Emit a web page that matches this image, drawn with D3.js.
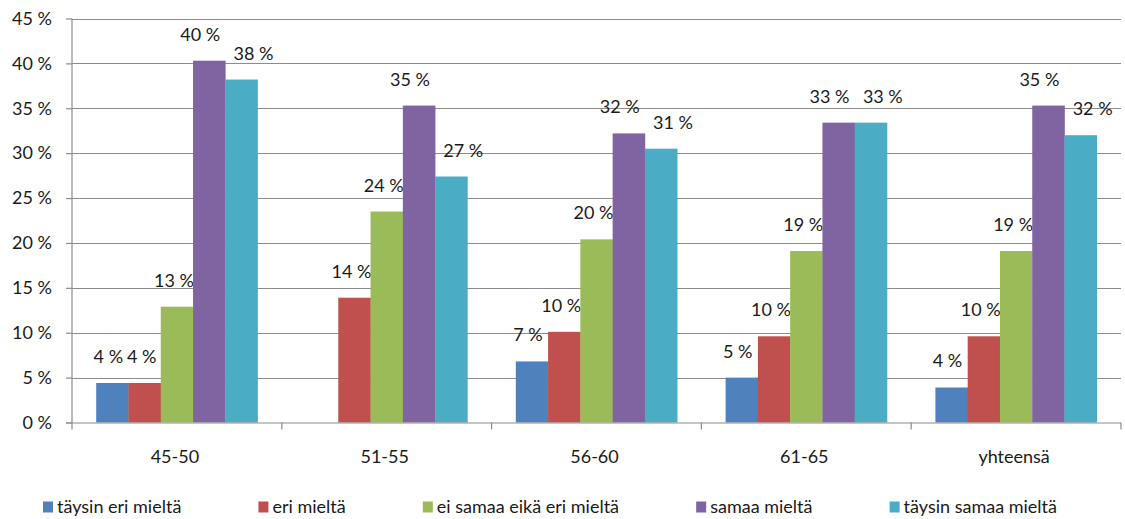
<!DOCTYPE html>
<html>
<head>
<meta charset="utf-8">
<script src="https://cdn.jsdelivr.net/npm/d3@7"></script>
<style>
  html, body { margin: 0; padding: 0; background: #fff; }
  svg { display: block; }
  text { font-family: Lato, "Open Sans", sans-serif; fill: #1a1a1a; }
</style>
</head>
<body>
<svg id="chart" width="1125" height="519"></svg>
<script>
// ---- data ----
const categories = ["45-50", "51-55", "56-60", "61-65", "yhteensä"];
const seriesNames = ["täysin eri mieltä", "eri mieltä", "ei samaa eikä eri mieltä", "samaa mieltä", "täysin samaa mieltä"];
const taysinEri   = [4.4, null, 6.8, 5.0, 3.9];
const eriMielta   = [4.4, 13.9, 10.1, 9.6, 9.6];
const eiSamaaEika = [12.9, 23.5, 20.4, 19.1, 19.1];
const samaaMielta = [40.3, 35.3, 32.2, 33.4, 35.3];
const taysinSamaa = [38.2, 27.4, 30.5, 33.4, 32.0];
const yTicks = [0, 5, 10, 15, 20, 25, 30, 35, 40, 45];

const seriesValues = [taysinEri, eriMielta, eiSamaaEika, samaaMielta, taysinSamaa];
const colors = ["#4F81BD", "#C0504D", "#9BBB59", "#8064A2", "#4BACC6"];
const labelDx = [-4, -3, -3, -9, 12];
const FS = "18px";

const svg = d3.select("#chart");
const plotLeft = 72, plotRight = 1121, plotTop = 18.5, plotBottom = 422.5;

const x0 = d3.scaleBand().domain(categories).range([plotLeft, plotRight]).paddingInner(0).paddingOuter(0);
const x1 = d3.scaleBand().domain(seriesNames).range([0, x0.bandwidth()]).paddingInner(0).paddingOuter(0.75);
const y = d3.scaleLinear().domain([0, 45]).range([plotBottom, plotTop]);

// gridlines
svg.append("g").selectAll("line").data(yTicks.filter(t => t > 0)).join("line")
  .attr("x1", plotLeft).attr("x2", plotRight)
  .attr("y1", d => Math.round(y(d)) + 0.5).attr("y2", d => Math.round(y(d)) + 0.5)
  .attr("stroke", "#8c8c8c").attr("stroke-width", 1.2);

// bars
const groups = svg.append("g").selectAll("g").data(categories).join("g")
  .attr("transform", d => `translate(${x0(d)},0)`);

groups.each(function(cat, ci) {
  const g = d3.select(this);
  seriesNames.forEach((s, si) => {
    const v = seriesValues[si][ci];
    if (v == null) return;
    g.append("rect")
      .attr("x", x1(s)).attr("width", x1.bandwidth() + 0.3)
      .attr("y", y(v)).attr("height", y(0) - y(v))
      .attr("fill", colors[si]);
    g.append("text")
      .attr("x", x1(s) + x1.bandwidth() / 2 + labelDx[si])
      .attr("y", y(v) - 20)
      .attr("text-anchor", "middle")
      .style("font-size", FS)
      .text(d3.format(".0f")(v) + " %");
  });
});

// y axis
const yAxis = d3.axisLeft(y).tickValues(yTicks).tickSize(6).tickPadding(14)
  .tickFormat(d => d + " %");
const ya = svg.append("g").attr("transform", `translate(${plotLeft},0)`).call(yAxis);
ya.select(".domain").attr("stroke", "#8c8c8c").attr("stroke-width", 1.2).attr("d", `M0,${plotTop}V${plotBottom}`);
ya.selectAll(".tick line").attr("stroke", "#8c8c8c").attr("stroke-width", 1.2);
ya.selectAll(".tick text").style("font-size", FS).style("font-family", "Lato, sans-serif").attr("fill", "#1a1a1a");

// x axis
const xa = svg.append("g").attr("transform", `translate(0,${plotBottom})`);
xa.append("line").attr("x1", plotLeft - 6).attr("x2", plotRight).attr("y1", 0.5).attr("y2", 0.5)
  .attr("stroke", "#8c8c8c").attr("stroke-width", 1.2);
const boundaries = categories.map(c => x0(c)).concat([x0(categories[categories.length - 1]) + x0.bandwidth()]);
xa.selectAll("line.tk").data(boundaries).join("line").attr("class", "tk")
  .attr("x1", d => d).attr("x2", d => d).attr("y1", 0).attr("y2", 7)
  .attr("stroke", "#8c8c8c").attr("stroke-width", 1.2);
xa.selectAll("text").data(categories).join("text")
  .attr("x", d => x0(d) + x0.bandwidth() / 2 - 2)
  .attr("y", 40)
  .attr("text-anchor", "middle")
  .style("font-size", FS)
  .text(d => d);

// legend
const legend = svg.append("g").attr("transform", "translate(0,507)");
const items = legend.selectAll("g").data(seriesNames).join("g");
items.append("rect").attr("x", 0).attr("y", -5.5).attr("width", 10).attr("height", 11)
  .attr("fill", (d, i) => colors[i]);
items.append("text").attr("x", 14).attr("y", 6).style("font-size", FS).text(d => d);
const widths = [];
items.each(function() { widths.push(this.getBBox().width); });
const startX = 43, endX = 1057;
const gap = (endX - startX - d3.sum(widths)) / (widths.length - 1);
let cx = startX;
items.attr("transform", (d, i) => { const t = `translate(${cx},0)`; cx += widths[i] + gap; return t; });
</script>
</body>
</html>
